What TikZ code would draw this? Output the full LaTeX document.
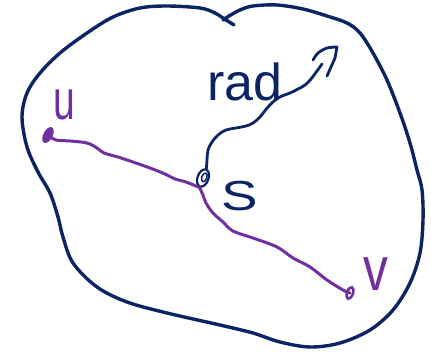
\documentclass[tikz,border=0pt]{standalone}
\usepackage{fontspec}
\newfontfamily\handfont{Liberation Sans}
\usetikzlibrary{shapes.geometric}
\definecolor{navy}{HTML}{0C2364}
\definecolor{purp}{HTML}{7030A0}
\begin{document}
\begin{tikzpicture}[x=1pt,y=-1pt,
  outline/.style={draw=navy,line width=3.4pt,line cap=round,line join=round},
  pline/.style={draw=purp,line width=3pt,line cap=round,line join=round},
  nline/.style={draw=navy,line width=2.8pt,line cap=round,line join=round},
  udot/.style={ellipse,draw=purp,fill=purp,line width=1.2pt,inner sep=0pt,minimum width=8pt,minimum height=16pt},
  vdot/.style={ellipse,draw=purp,line width=2.6pt,inner sep=0pt,minimum width=6pt,minimum height=12pt},
  sdot/.style={ellipse,draw=navy,line width=2.2pt,inner sep=0pt,minimum width=11pt,minimum height=18pt},
  lab/.style={inner sep=0pt,anchor=base}
]
\useasboundingbox (0,0) rectangle (431,351);
% blob outline
\draw[outline] plot[smooth,tension=0.55] coordinates {
 (234,25) (223,18) (215,13) (200,8) (167,6) (140,8) (113,17) (87,33) (60,53)
 (40,73) (27,93) (22,117) (27,147) (38,172) (50,193) (58,217) (63,237) (73,263)
 (97,287) (127,302) (167,313) (220,325) (253,333) (280,342) (310,347) (340,343)
 (370,330) (393,310) (410,283) (420,253) (423,220) (422,190) (417,170) (410,143)
 (400,113) (387,80) (373,53) (360,33) (347,23) (327,16) (303,9) (277,5) (253,6)
 (240,10) (229,16) (223,20)};
% vertices
\node[udot,rotate=-28] (u) at (48,135) {};
\node[vdot,rotate=-20] (v) at (350,293) {};
\node[sdot,rotate=-20] (s) at (203,178) {};
\draw[navy,line width=1.5pt,rotate around={-20:(s.center)}] ([xshift=1pt,yshift=1pt]s.center) ellipse (2.5 and 4.5);
% purple connectors
\draw[pline] plot[smooth,tension=0.6] coordinates {
 (u.center) (56,140) (70,141) (87,143) (97,148) (104,153) (118,157) (133,162)
 (150,168) (165,174) (175,179) (186,182) (s.south)};
\draw[pline] plot[smooth,tension=0.6] coordinates {
 (s.south) (203,195) (206,203) (213,213) (223,222) (233,231) (253,238) (277,247)
 (293,258) (310,267) (327,280) (343,290) (v.center)};
% radius connector
\coordinate (radend) at (322,64);
\draw[nline] plot[smooth,tension=0.6] coordinates {
 (s.north) (207,160) (208,150) (212,142) (218,135) (226,130) (236,128) (246,126)
 (253,123) (260,117) (268,107) (278,98) (290,93) (298,89) (305,85) (311,79)
 (317,71) (radend)};
\draw[nline] plot[smooth,tension=0.5] coordinates {(313,60) (318,53) (327,48) (337,47)}
  -- (335,58) -- (327,76);
% labels
\node[lab,text=purp,font=\handfont\fontsize{56}{56}\selectfont,xscale=0.7] (ul) at (64,119) {u};
\node[lab,text=purp,font=\handfont\fontsize{62}{62}\selectfont,xscale=0.8] (vl) at (376,290) {v};
\node[lab,text=navy,font=\handfont\fontsize{42}{42}\selectfont,xscale=1.3] (sl) at (240,210) {S};
\node[lab,anchor=base west,text=navy,font=\handfont\fontsize{52}{52}\selectfont] (radl) at (207,100) {rad};
\end{tikzpicture}
\end{document}
